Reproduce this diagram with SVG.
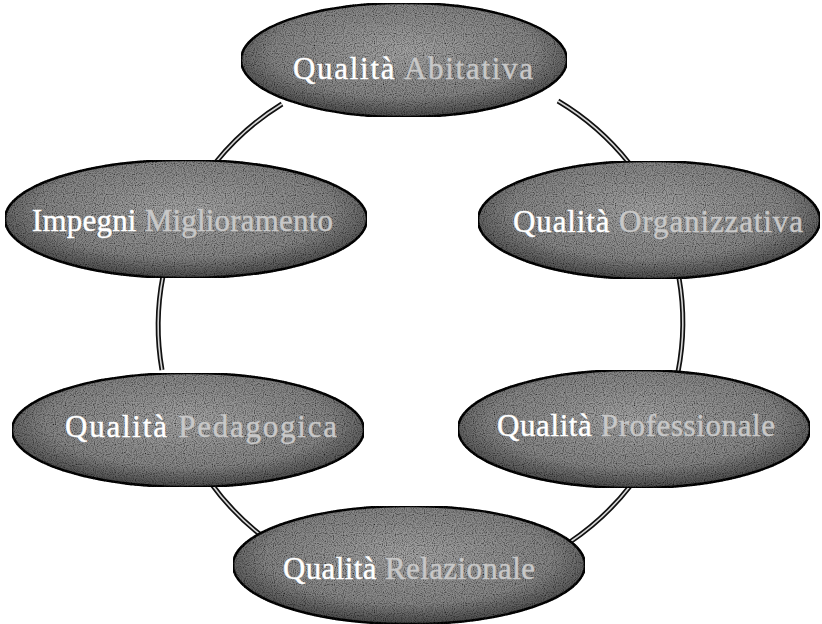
<svg xmlns="http://www.w3.org/2000/svg" width="822" height="624" viewBox="0 0 822 624">
<defs>
<radialGradient id="g" cx="50%" cy="42%" r="58%">
<stop offset="0" stop-color="#a4a4a4"/>
<stop offset="0.7" stop-color="#858585"/>
<stop offset="1" stop-color="#4a4a4a"/>
</radialGradient>
<filter id="grain" x="0" y="0" width="100%" height="100%">
<feTurbulence type="fractalNoise" baseFrequency="0.9" numOctaves="1" seed="4" result="n"/>
<feColorMatrix in="n" type="matrix" values="0 0 0 0 0  0 0 0 0 0  0 0 0 0 0  0 0 0 -2.2 1.3" result="dots"/>
<feComposite in="dots" in2="SourceAlpha" operator="in" result="d2"/>
<feMerge><feMergeNode in="SourceGraphic"/><feMergeNode in="d2"/></feMerge>
</filter>
</defs>
<style>
.node ellipse{fill:url(#g);stroke:#111;stroke-width:2.5;filter:url(#grain)}
.lbl{font-family:"Liberation Serif","Times New Roman",serif;font-size:31px;fill:#ffffff;stroke:#ffffff;stroke-width:0.4}
.w2{fill:#c8c8c8;stroke:#c8c8c8}
.outer{fill:none;stroke:#111;stroke-width:5}
.inner{fill:none;stroke:#d8d8d8;stroke-width:1.6}
</style>
<rect width="822" height="624" fill="#ffffff"/>
<g id="connectors">
<path class="outer" d="M282,104 A263,261 0 0 0 216,162"/>
<path class="outer" d="M558,101 A263,261 0 0 1 629,163"/>
<path class="outer" d="M163,276 A263,261 0 0 0 162,370"/>
<path class="outer" d="M679,278 A263,261 0 0 1 678,372"/>
<path class="outer" d="M210,482 A263,261 0 0 0 262,536"/>
<path class="outer" d="M631,485 A263,261 0 0 1 570,542"/>
<path class="inner" d="M282,104 A263,261 0 0 0 216,162"/>
<path class="inner" d="M558,101 A263,261 0 0 1 629,163"/>
<path class="inner" d="M163,276 A263,261 0 0 0 162,370"/>
<path class="inner" d="M679,278 A263,261 0 0 1 678,372"/>
<path class="inner" d="M210,482 A263,261 0 0 0 262,536"/>
<path class="inner" d="M631,485 A263,261 0 0 1 570,542"/>
</g>
<g id="node-abitativa" class="node">
<ellipse cx="404" cy="60" rx="163" ry="57"/>
<text class="lbl" x="293" y="79" textLength="240">Qualità <tspan class="w2">Abitativa</tspan></text>
</g>
<g id="node-miglioramento" class="node">
<ellipse cx="186" cy="219" rx="181" ry="59"/>
<text class="lbl" x="32" y="231" textLength="301">Impegni <tspan class="w2">Miglioramento</tspan></text>
</g>
<g id="node-organizzativa" class="node">
<ellipse cx="649" cy="220" rx="171" ry="59"/>
<text class="lbl" x="513" y="232" textLength="290">Qualità <tspan class="w2">Organizzativa</tspan></text>
</g>
<g id="node-pedagogica" class="node">
<ellipse cx="188" cy="430" rx="176" ry="57"/>
<text class="lbl" x="65" y="437" textLength="272">Qualità <tspan class="w2">Pedagogica</tspan></text>
</g>
<g id="node-professionale" class="node">
<ellipse cx="634" cy="429" rx="176" ry="59"/>
<text class="lbl" x="497" y="436" textLength="278">Qualità <tspan class="w2">Professionale</tspan></text>
</g>
<g id="node-relazionale" class="node">
<ellipse cx="409" cy="565" rx="176" ry="59"/>
<text class="lbl" x="283" y="579" textLength="252">Qualità <tspan class="w2">Relazionale</tspan></text>
</g>
</svg>
